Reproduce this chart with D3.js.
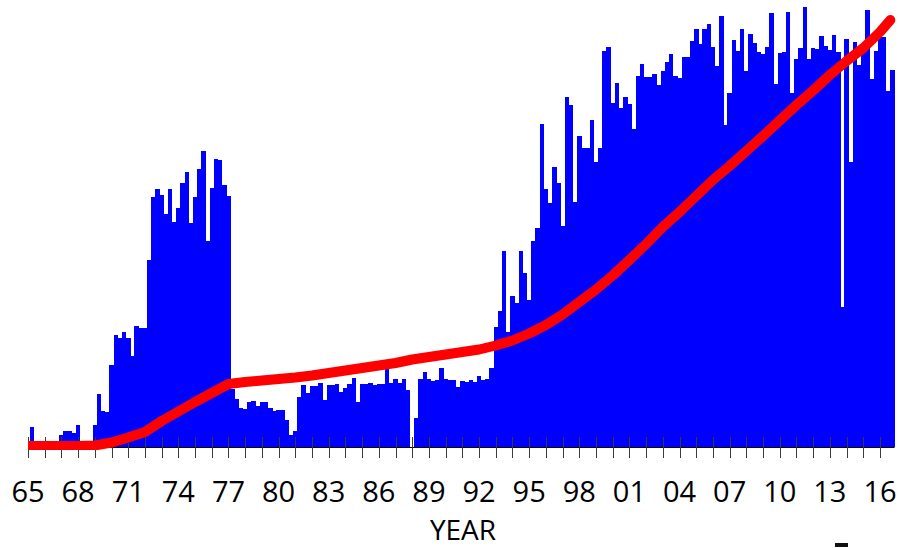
<!DOCTYPE html>
<meta charset="utf-8">
<title>Quarterly counts with cumulative line</title>
<head>
  <script src="https://d3js.org/d3.v7.min.js"></script>
  <style>
    body { margin: 0; background: #fff; }
    text { font-family: "Open Sans", sans-serif; fill: #000; }
  </style>
</head>
<body>
  <div id="chart"></div>
  <script>
    var width = 901
    var height = 548

    // quarterly bar values, 1965 Q1 .. 2016 Q3
    var barValues = [
      20, 0, 0, 0, 0, 0, 0, 12, 16, 16, 14, 22, 0, 0, 0, 22,
      53, 36, 35, 82, 112, 109, 115, 109, 91, 121, 119, 119, 187, 250, 258, 252,
      233, 258, 225, 239, 264, 275, 224, 250, 278, 296, 206, 259, 288, 287, 262, 251,
      58, 48, 39, 38, 45, 46, 41, 45, 45, 39, 36, 37, 37, 27, 12, 16,
      50, 62, 54, 61, 61, 64, 47, 62, 62, 63, 55, 59, 63, 69, 45, 63,
      63, 64, 62, 63, 63, 78, 64, 68, 64, 68, 57, 0, 29, 68, 75, 68,
      66, 67, 79, 68, 67, 67, 60, 66, 65, 67, 65, 71, 67, 68, 79, 120,
      136, 196, 115, 151, 144, 196, 174, 147, 206, 219, 323, 258, 244, 280, 264, 221,
      350, 342, 245, 311, 299, 299, 327, 285, 299, 396, 400, 344, 364, 339, 350, 343,
      318, 371, 383, 370, 370, 373, 362, 376, 385, 393, 371, 369, 390, 390, 406, 418,
      403, 418, 423, 400, 381, 431, 322, 354, 407, 396, 418, 376, 413, 404, 395, 393,
      400, 434, 363, 394, 395, 435, 354, 388, 399, 440, 388, 399, 398, 411, 401, 397,
      412, 395, 140, 408, 285, 405, 382, 400, 437, 368, 396, 411, 410, 356, 377
    ]

    // cumulative line, read at each year start
    var lineYears = [
      1965, 1966, 1967, 1968, 1969, 1970, 1971, 1972, 1973, 1974, 1975, 1976, 1977,
      1978, 1979, 1980, 1981, 1982, 1983, 1984, 1985, 1986, 1987, 1988, 1989, 1990,
      1991, 1992, 1993, 1994, 1995, 1996, 1997, 1998, 1999, 2000, 2001, 2002, 2003,
      2004, 2005, 2006, 2007, 2008, 2009, 2010, 2011, 2012, 2013, 2014, 2015, 2016, 2016.62
    ]
    var lineValues = [
      0, 0, 0, 0, 0.5, 3.5, 8.5, 14, 25, 34.5, 44, 53, 62,
      64, 65.5, 67, 68.5, 70.5, 73, 75.5, 78, 80.5, 83, 86.5, 89, 91.5,
      94, 96.5, 100.5, 105.5, 112.5, 121, 131.5, 144, 156.5, 170.5, 186, 202, 219,
      234, 250, 266, 280, 295, 310, 325.5, 341, 355.5, 371, 385, 398, 414, 426
    ]

    var tickYears = d3.range(1965, 2017)
    var labelYears = d3.range(1965, 2017, 3)

    var svg = d3.select("#chart")
      .append("svg")
      .attr("width", width)
      .attr("height", height)

    var x = d3.scaleLinear().domain([1965, 2016]).range([28, 880])
    var xBar = d3.scaleBand()
      .domain(d3.range(barValues.length))
      .range([x(1965) + 2, x(1965 + barValues.length / 4) + 2])
      .padding(0)
    var y = d3.scaleLinear().domain([0, 440]).range([447, 7])
    var yLine = d3.scaleLinear().domain([0, 430]).range([446, 16])

    svg.append("defs").append("clipPath")
      .attr("id", "plot-clip")
      .append("rect")
      .attr("x", x(1965))
      .attr("y", 0)
      .attr("width", width - x(1965))
      .attr("height", 450)

    svg.append("g")
      .attr("class", "bars")
      .selectAll("rect")
      .data(barValues)
      .enter().append("rect")
      .attr("x", function(d, i) { return xBar(i) })
      .attr("width", xBar.bandwidth() + 0.3)
      .attr("y", function(d) { return y(d) })
      .attr("height", function(d) { return y(0) - y(d) })
      .attr("fill", "#0000ff")
      .attr("shape-rendering", "crispEdges")

    // axis line and ticks (ticks cross the axis line)
    var axis = svg.append("g").attr("class", "x-axis")
    axis.append("line")
      .attr("x1", x(1965))
      .attr("x2", xBar.range()[1])
      .attr("y1", 447.5)
      .attr("y2", 447.5)
      .attr("stroke", "#000")
      .attr("stroke-width", 1)
    axis.selectAll("line.tick")
      .data(tickYears)
      .enter().append("line")
      .attr("class", "tick")
      .attr("x1", function(d) { return Math.round(x(d)) + 0.5 })
      .attr("x2", function(d) { return Math.round(x(d)) + 0.5 })
      .attr("y1", 437)
      .attr("y2", 458)
      .attr("stroke", "#3a3a3a")
      .attr("stroke-width", 1)

    axis.selectAll("text")
      .data(labelYears)
      .enter().append("text")
      .attr("x", function(d) { return x(d) })
      .attr("y", 502)
      .attr("text-anchor", "middle")
      .style("font-size", "29px")
      .text(function(d) { return d3.format("02")(d % 100) })

    svg.append("text")
      .attr("x", 463)
      .attr("y", 540)
      .attr("text-anchor", "middle")
      .style("font-size", "28px")
      .text("YEAR")

    var line = d3.line()
      .x(function(d, i) { return x(lineYears[i]) })
      .y(function(d) { return yLine(d) })

    svg.append("path")
      .datum(lineValues)
      .attr("clip-path", "url(#plot-clip)")
      .attr("d", line)
      .attr("fill", "none")
      .attr("stroke", "#ff0000")
      .attr("stroke-width", 10)
      .attr("stroke-linejoin", "round")
      .attr("stroke-linecap", "round")

    // small dark dash at the bottom edge
    svg.append("rect")
      .attr("x", 835)
      .attr("y", 543)
      .attr("width", 13)
      .attr("height", 4)
      .attr("fill", "#111")
  </script>
</body>
